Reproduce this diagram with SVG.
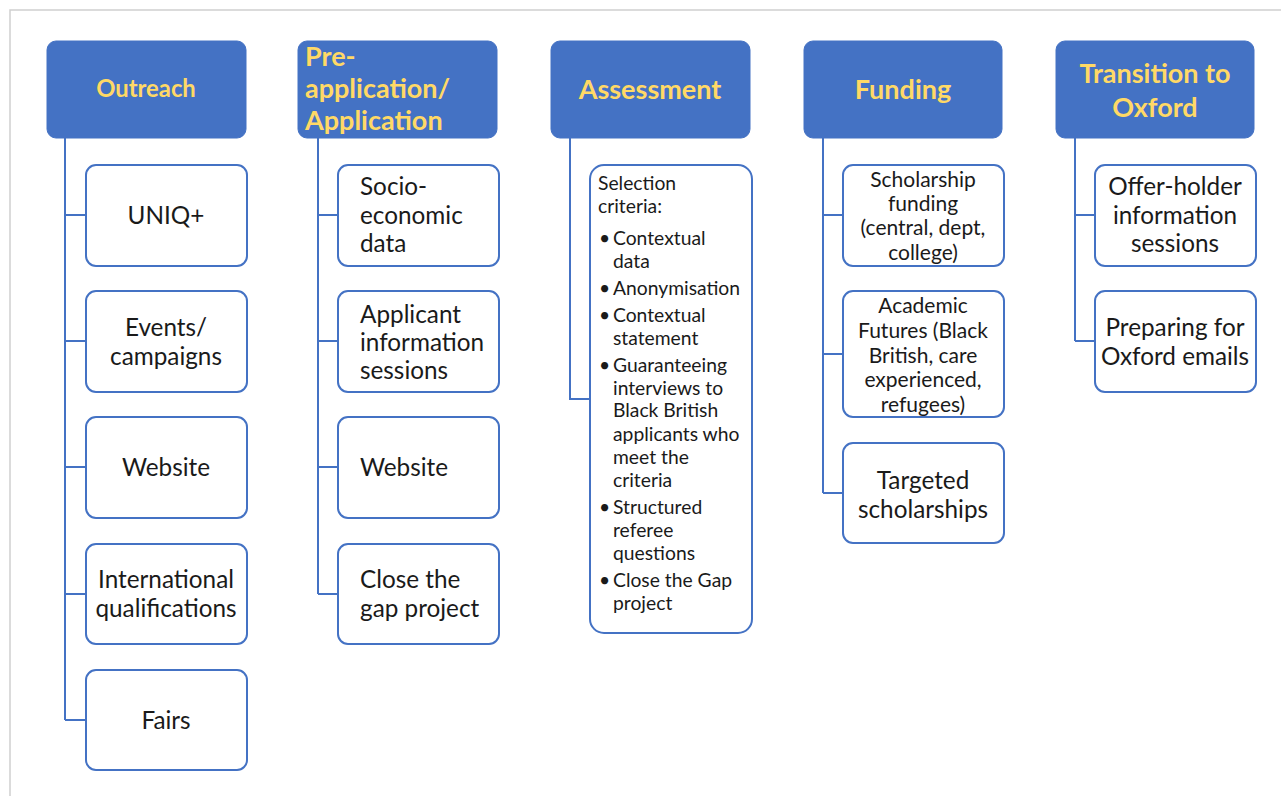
<svg xmlns="http://www.w3.org/2000/svg" width="1281" height="796" viewBox="0 0 1281 796">
  <style>
    .frame { fill: none; stroke: #d0d0d0; stroke-width: 1.5; }
    .head { fill: #4472C4; stroke: #4472C4; stroke-width: 1; }
    .head-text { fill: #FFD966; font-family: Lato, "Liberation Sans", sans-serif; font-weight: bold; font-size: 27px; }
    .head-text.first { font-size: 23.8px; }
    .box { fill: #ffffff; stroke: #4472C4; stroke-width: 2; }
    .txt { fill: #1a1a1a; font-family: Lato, "Liberation Sans", sans-serif; font-size: 24.3px; }
    .mid { text-anchor: middle; }
    .small { font-size: 21px; }
    .list { font-size: 19.3px; }
    .link { fill: none; stroke: #4472C4; stroke-width: 2; }
  </style>

  <rect width="1281" height="796" fill="#ffffff"/>
  <path class="frame" d="M10 800 V10 H1290"/>

  <!-- tree connectors -->
  <g id="connectors">
    <path class="link" d="M65 138 V720 M65 215 H86 M65 341 H86 M65 467 H86 M65 594 H86 M65 720 H86"/>
    <path class="link" d="M318 138 V594 M318 215 H338 M318 341 H338 M318 467 H338 M318 594 H338"/>
    <path class="link" d="M570 138 V399 H590"/>
    <path class="link" d="M823 138 V493 M823 215 H843 M823 354 H843 M823 493 H843"/>
    <path class="link" d="M1075 138 V341 M1075 215 H1095 M1075 341 H1095"/>
  </g>

  <!-- Outreach column -->
  <g id="outreach">
    <rect class="head" x="47" y="41" width="199" height="97" rx="9"/>
    <text class="head-text first mid" x="146" y="97">Outreach</text>
  </g>
  <g id="uniq">
    <rect class="box" x="86" y="165" width="161" height="101" rx="10"/>
    <text class="txt mid" x="166" y="224">UNIQ+</text>
  </g>
  <g id="events">
    <rect class="box" x="86" y="291" width="161" height="101" rx="10"/>
    <text class="txt mid" x="166" y="336">Events/</text>
    <text class="txt mid" x="166" y="365">campaigns</text>
  </g>
  <g id="website-outreach">
    <rect class="box" x="86" y="417" width="161" height="101" rx="10"/>
    <text class="txt mid" x="166" y="476">Website</text>
  </g>
  <g id="international">
    <rect class="box" x="86" y="544" width="161" height="100" rx="10"/>
    <text class="txt mid" x="166" y="588">International</text>
    <text class="txt mid" x="166" y="617">qualifications</text>
  </g>
  <g id="fairs">
    <rect class="box" x="86" y="670" width="161" height="100" rx="10"/>
    <text class="txt mid" x="166" y="729">Fairs</text>
  </g>

  <!-- Pre-application / Application column -->
  <g id="application">
    <rect class="head" x="298" y="41" width="199" height="97" rx="9"/>
    <text class="head-text" x="305" y="66">Pre-</text>
    <text class="head-text" x="305" y="98">application/</text>
    <text class="head-text" x="305" y="130">Application</text>
  </g>
  <g id="socio">
    <rect class="box" x="338" y="165" width="161" height="101" rx="10"/>
    <text class="txt" x="360" y="195">Socio-</text>
    <text class="txt" x="360" y="224">economic</text>
    <text class="txt" x="360" y="252">data</text>
  </g>
  <g id="applicant-sessions">
    <rect class="box" x="338" y="291" width="161" height="101" rx="10"/>
    <text class="txt" x="360" y="323">Applicant</text>
    <text class="txt" x="360" y="351">information</text>
    <text class="txt" x="360" y="379">sessions</text>
  </g>
  <g id="website-application">
    <rect class="box" x="338" y="417" width="161" height="101" rx="10"/>
    <text class="txt" x="360" y="476">Website</text>
  </g>
  <g id="close-gap">
    <rect class="box" x="338" y="544" width="161" height="100" rx="10"/>
    <text class="txt" x="360" y="588">Close the</text>
    <text class="txt" x="360" y="617">gap project</text>
  </g>

  <!-- Assessment column -->
  <g id="assessment">
    <rect class="head" x="551" y="41" width="199" height="97" rx="9"/>
    <text class="head-text mid" x="650" y="99">Assessment</text>
  </g>
  <g id="selection">
    <rect class="box" x="590" y="165" width="162" height="468" rx="14"/>
    <g class="txt list">
      <text x="598" y="190">Selection</text>
      <text x="598" y="213">criteria:</text>
      <text x="599" y="245">•</text><text x="613" y="245">Contextual</text>
      <text x="613" y="268">data</text>
      <text x="599" y="295">•</text><text x="613" y="295">Anonymisation</text>
      <text x="599" y="322">•</text><text x="613" y="322">Contextual</text>
      <text x="613" y="345">statement</text>
      <text x="599" y="372">•</text><text x="613" y="372">Guaranteeing</text>
      <text x="613" y="395">interviews to</text>
      <text x="613" y="417">Black British</text>
      <text x="613" y="441">applicants who</text>
      <text x="613" y="464">meet the</text>
      <text x="613" y="487">criteria</text>
      <text x="599" y="514">•</text><text x="613" y="514">Structured</text>
      <text x="613" y="537">referee</text>
      <text x="613" y="560">questions</text>
      <text x="599" y="587">•</text><text x="613" y="587">Close the Gap</text>
      <text x="613" y="610">project</text>
    </g>
  </g>

  <!-- Funding column -->
  <g id="funding">
    <rect class="head" x="804" y="41" width="198" height="97" rx="9"/>
    <text class="head-text mid" x="903" y="99">Funding</text>
  </g>
  <g id="scholarship-funding">
    <rect class="box" x="843" y="165" width="161" height="101" rx="10"/>
    <text class="txt small mid" x="923" y="187">Scholarship</text>
    <text class="txt small mid" x="923" y="211">funding</text>
    <text class="txt small mid" x="923" y="235">(central, dept,</text>
    <text class="txt small mid" x="923" y="260">college)</text>
  </g>
  <g id="academic-futures">
    <rect class="box" x="843" y="291" width="161" height="126" rx="10"/>
    <text class="txt small mid" x="923" y="313">Academic</text>
    <text class="txt small mid" x="923" y="338">Futures (Black</text>
    <text class="txt small mid" x="923" y="363">British, care</text>
    <text class="txt small mid" x="923" y="387">experienced,</text>
    <text class="txt small mid" x="923" y="412">refugees)</text>
  </g>
  <g id="targeted">
    <rect class="box" x="843" y="443" width="161" height="100" rx="10"/>
    <text class="txt mid" x="923" y="489">Targeted</text>
    <text class="txt mid" x="923" y="518">scholarships</text>
  </g>

  <!-- Transition to Oxford column -->
  <g id="transition">
    <rect class="head" x="1056" y="41" width="198" height="97" rx="9"/>
    <text class="head-text mid" x="1155" y="83">Transition to</text>
    <text class="head-text mid" x="1155" y="117">Oxford</text>
  </g>
  <g id="offer-holder">
    <rect class="box" x="1095" y="165" width="161" height="101" rx="10"/>
    <text class="txt mid" x="1175" y="195">Offer-holder</text>
    <text class="txt mid" x="1175" y="224">information</text>
    <text class="txt mid" x="1175" y="252">sessions</text>
  </g>
  <g id="preparing">
    <rect class="box" x="1095" y="291" width="161" height="101" rx="10"/>
    <text class="txt mid" x="1175" y="336">Preparing for</text>
    <text class="txt mid" x="1175" y="365">Oxford emails</text>
  </g>
</svg>
